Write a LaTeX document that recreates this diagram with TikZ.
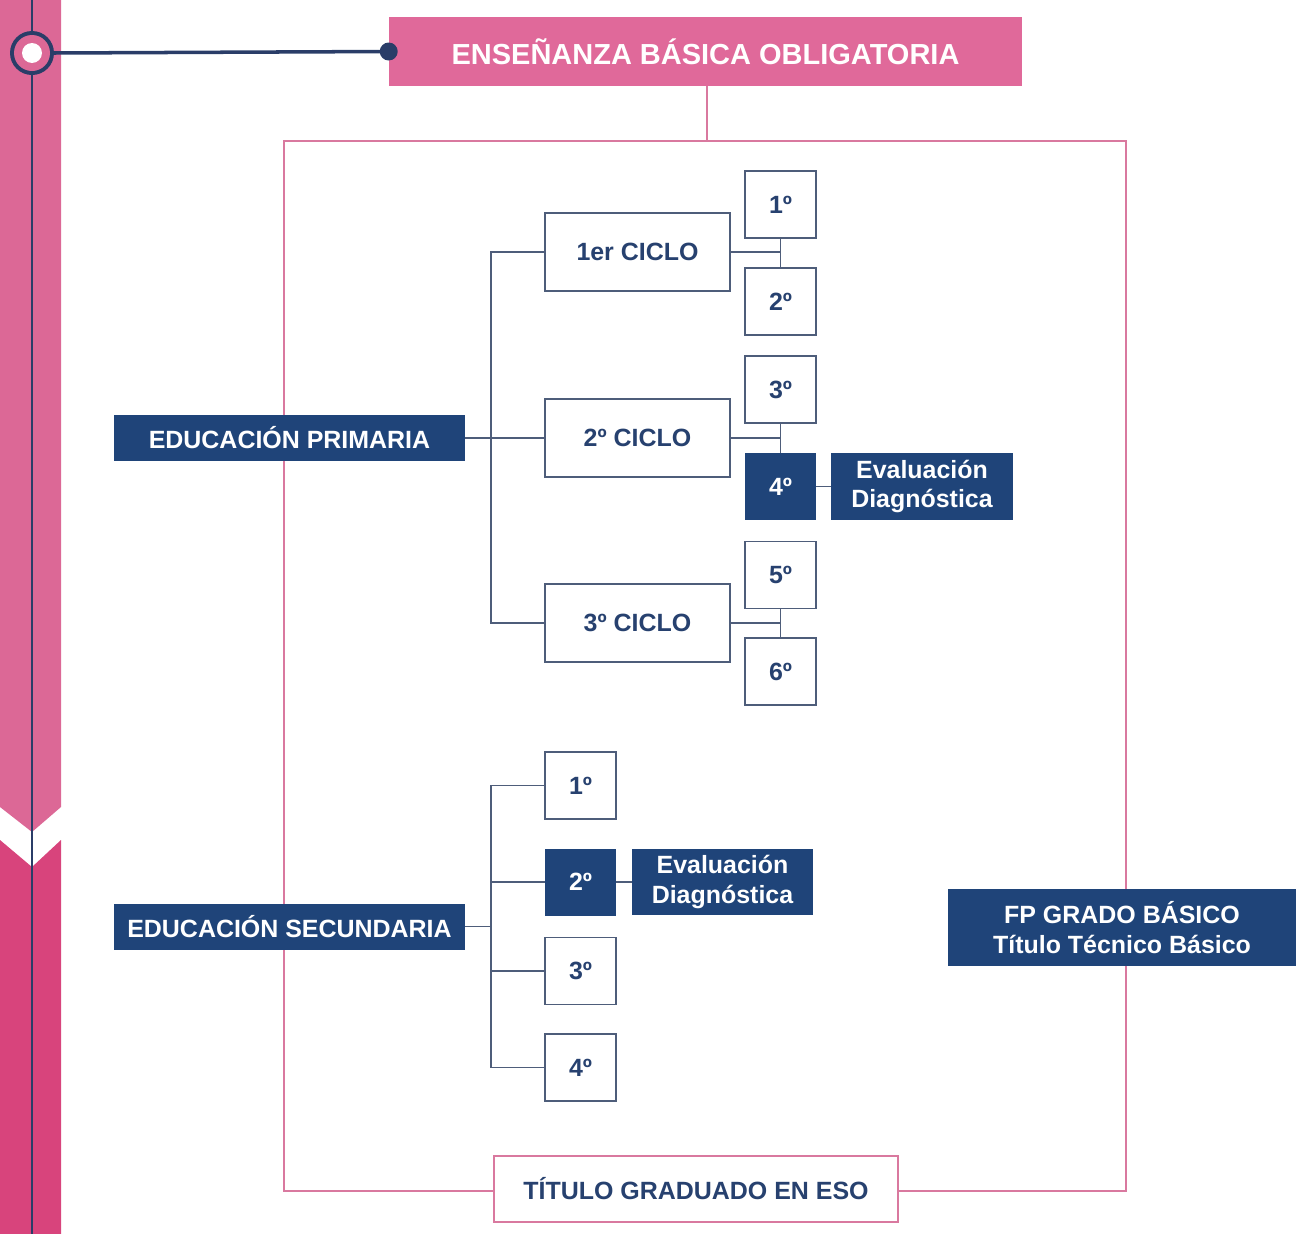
\documentclass[tikz,border=0pt]{standalone}
\usepackage{fontspec}
\setmainfont{Liberation Sans}
\definecolor{navybox}{HTML}{1F4479}
\definecolor{navyline}{HTML}{2A3D68}
\definecolor{navytext}{HTML}{27416F}
\definecolor{greyline}{HTML}{4E5D7A}
\definecolor{pinkbox}{HTML}{E0699A}
\definecolor{pinkframe}{HTML}{D9799F}
\definecolor{barlight}{HTML}{DC6896}
\definecolor{bardark}{HTML}{D8447C}
\begin{document}
\begin{tikzpicture}
[x=0.02cm,y=-0.02cm,
  every node/.style={font=\bfseries\fontsize{14.2}{17}\selectfont,inner sep=0pt,align=center},%
  darkbox/.style={fill=navybox,text=white},%
  whitebox/.style={draw=greyline,line width=1.1pt,fill=white,text=navytext},%
  coursebox/.style={minimum width=1.42cm,minimum height=1.34cm},%
  ciclobox/.style={whitebox,minimum width=3.70cm,minimum height=1.56cm},%
  evalbox/.style={darkbox,minimum width=3.64cm,minimum height=1.34cm},%
  etapabox/.style={darkbox,minimum width=7.02cm,minimum height=0.92cm},%
  linedecorate/.style={draw=greyline,line width=1.1pt}]
\useasboundingbox (0,0) rectangle (1296,1234);
%% left bar with chevron
\fill[barlight] (0,0) -- (61,0) -- (61,807) -- (32,832) -- (0,807) -- cycle;
\fill[bardark] (0,840) -- (32,867) -- (61,840) -- (61,1234) -- (0,1234) -- cycle;
\draw[navyline,line width=1.7pt] (32,0) -- (32,1234);
\coordinate (ring) at (32,53);
\fill[navyline] (ring) circle (22);
\fill[barlight] (ring) circle (18);
\fill[white] (ring) circle (10);
%% frame of the basic education
\draw[pinkframe,line width=1.1pt] (284,141) rectangle (1126,1191);
%% top title
\node (top) at (705.5,51.5) [fill=pinkbox,text=white,minimum width=12.66cm,minimum height=1.38cm,
  font=\bfseries\fontsize{16.5}{20}\selectfont] {ENSEÑANZA BÁSICA OBLIGATORIA};
\fill[navyline] (top.west) circle (9);
\draw[navyline,line width=2pt] (ring) ++(22,0) -- (top.west);
\coordinate (frametop) at (707,141);
\draw[pinkframe,line width=1.1pt] (top.south -| frametop) -- (frametop);
%% educacion primaria
\node (prim) at (289.5,438) [etapabox] {EDUCACIÓN PRIMARIA};
\foreach \nodename/\y/\texto in {c1/252/1er CICLO, c2/438/2º CICLO, c3/623/3º CICLO}
{
  \node (\nodename) at (637.5,\y) [ciclobox] {\texto};
}
\foreach \nodename/\y/\texto/\estilo in {
  p1/204.5/1º/whitebox, p2/301.5/2º/whitebox, p3/389.5/3º/whitebox,
  p4/486.5/4º/darkbox, p5/575/5º/whitebox, p6/671.5/6º/whitebox}
{
  \node (\nodename) at (780.5,\y) [coursebox,\estilo] {\texto};
}
\node (eval1) at (922,486.5) [evalbox] {Evaluación\\Diagnóstica};
\coordinate (ptrunk) at (491,438);
\draw[linedecorate] (prim.east) -- (c2.west);
\draw[linedecorate] (c1.west) -| (ptrunk) |- (c3.west);
\foreach \ciclo/\upper/\lower in {c1/p1/p2, c2/p3/p4, c3/p5/p6} {
  \draw[linedecorate] (\upper.south) -- (\lower.north);
  \draw[linedecorate] (\ciclo.east) -- (\ciclo.east -| \upper.south);
}
\draw[linedecorate] (p4.east) -- (eval1.west);
%% educacion secundaria
\node (sec) at (289.5,926.5) [etapabox] {EDUCACIÓN SECUNDARIA};
\foreach \nodename/\y/\texto/\estilo in {
  s1/785.5/1º/whitebox, s2/882/2º/darkbox, s3/971/3º/whitebox, s4/1067.5/4º/whitebox}
{
  \node (\nodename) at (580.5,\y) [coursebox,\estilo] {\texto};
}
\node (eval2) at (722.5,882) [evalbox,minimum width=3.62cm,minimum height=1.32cm] {Evaluación\\Diagnóstica};
\coordinate (strunk) at (491,926.5);
\draw[linedecorate] (sec.east) -- (strunk);
\draw[linedecorate] (s1.west) -| (strunk) |- (s4.west);
\foreach \nodename in {s2, s3}
  \draw[linedecorate] (\nodename.west) -- (\nodename.west -| strunk);
\draw[linedecorate] (s2.east) -- (eval2.west);
%% titles
\node (fp) at (1122,927.5) [darkbox,minimum width=6.96cm,minimum height=1.54cm] {FP GRADO BÁSICO\\Título Técnico Básico};
\node (eso) at (696,1189) [fill=white,draw=pinkframe,line width=1.1pt,text=navytext,
  minimum width=8.08cm,minimum height=1.32cm] {TÍTULO GRADUADO EN ESO};
\end{tikzpicture}
\end{document}
